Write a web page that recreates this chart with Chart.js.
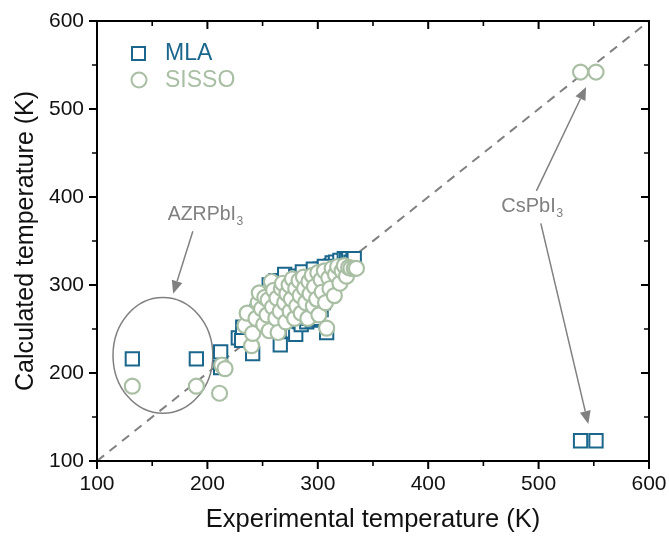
<!DOCTYPE html>
<html>
<head>
<meta charset="utf-8">
<script src="https://cdn.jsdelivr.net/npm/chart.js@4.4.1/dist/chart.umd.min.js"></script>
<style>
html,body{margin:0;padding:0;background:#fff;}
#wrap{width:669px;height:536px;}
</style>
</head>
<body>
<div id="wrap"><canvas id="c" width="669" height="536"></canvas></div>
<script>
// ---- data ----
const seriesNames = ['MLA', 'SISSO'];
const xTickValues = [100, 200, 300, 400, 500, 600];
const yTickValues = [100, 200, 300, 400, 500, 600];

const mlaExp = [132,190,212,212,538,552,
  228,231,232,238,241,245,248,250,253,256,258,260,262,264,266,268,270,272,274,276,277,278,280,280,282,284,285,286,288,290,290,292,294,295,296,298,298,300,300,302,303,304,305,306,308,310,312,313,314,316,318,320,322,324,326,328,330,332,333,286,296,306];
const mlaCalc = [216,216,224,206,123,123,
  240,237,252,262,222,270,282,258,290,300,268,278,305,288,232,296,312,250,280,302,248,292,310,244,270,258,255,300,314,284,258,262,304,260,316,276,268,296,262,318,272,290,280,320,246,306,322,325,300,326,312,328,316,330,328,330,326,330,330,315,318,321];

const sissoExp = [132,190,211,213,216,538,552,
  234,236,240,241,244,246,247,249,251,252,254,255,256,258,259,260,262,263,264,266,267,268,270,271,272,274,275,276,277,279,280,281,283,284,285,287,288,289,291,292,293,295,296,297,299,300,301,303,304,306,307,308,310,311,313,315,316,318,320,322,324,326,328,330,333,335];
const sissoCalc = [185,185,177,209,205,542,542,
  254,268,231,245,262,280,291,273,255,286,266,283,248,304,275,294,262,285,246,270,296,302,280,258,290,300,270,284,307,262,296,276,305,288,268,309,296,280,262,304,290,311,276,298,284,314,266,306,292,316,280,251,308,296,319,288,312,321,302,316,322,310,320,319,319,319];

const toPts = (xs, ys) => xs.map((x, i) => ({x: x, y: ys[i]}));
const diagonal = [{x:100,y:100},{x:600,y:600}];

// ---- styles ----
const MLA_COLOR = '#1a668c';
const SISSO_COLOR = '#a9bfa4';
const GREY = '#808080';
const FONT = "'Liberation Sans', Arial, sans-serif";

// annotation anchors in data units
const ann = {
  ellipse: {cx:159.7, cy:220, rx:45.2, ry:65.8},
  azrText: {x:198, y:380},
  azrArrow: {x1:186.8, y1:361, x2:169, y2:290},
  csText: {x:494, y:389},
  csArrow1: {x1:498, y1:407, x2:543, y2:525},
  csArrow2: {x1:502, y1:370, x2:545, y2:142}
};

function arrow(ctx, x1, y1, x2, y2) {
  const ang = Math.atan2(y2 - y1, x2 - x1);
  const hl = 13, hw = 5.5;
  const bx = x2 - hl * Math.cos(ang), by = y2 - hl * Math.sin(ang);
  ctx.beginPath();
  ctx.moveTo(x1, y1); ctx.lineTo(bx, by); ctx.stroke();
  ctx.beginPath();
  ctx.moveTo(x2, y2);
  ctx.lineTo(bx + hw * Math.sin(ang), by - hw * Math.cos(ang));
  ctx.lineTo(bx - hw * Math.sin(ang), by + hw * Math.cos(ang));
  ctx.closePath(); ctx.fill();
}

function subText(ctx, main, sub, cx, cy, size) {
  ctx.font = size + 'px ' + FONT;
  const w1 = ctx.measureText(main).width;
  ctx.font = (size * 0.62) + 'px ' + FONT;
  const w2 = ctx.measureText(sub).width;
  let x = cx - (w1 + w2) / 2;
  ctx.textBaseline = 'middle'; ctx.textAlign = 'left';
  ctx.font = size + 'px ' + FONT;
  ctx.fillText(main, x, cy);
  ctx.font = (size * 0.62) + 'px ' + FONT;
  ctx.fillText(sub, x + w1 + 0.5, cy + size * 0.35);
}

const annotPlugin = {
  id: 'annot',
  beforeDatasetsDraw(chart) {
    const ctx = chart.ctx, xs = chart.scales.x, ys = chart.scales.y;
    const px = v => xs.getPixelForValue(v), py = v => ys.getPixelForValue(v);
    ctx.save();
    ctx.strokeStyle = GREY; ctx.fillStyle = GREY; ctx.lineWidth = 1.5;
    const e = ann.ellipse;
    ctx.beginPath();
    ctx.ellipse(px(e.cx), py(e.cy), px(e.cx + e.rx) - px(e.cx), py(e.cy) - py(e.cy + e.ry), 0, 0, Math.PI * 2);
    ctx.stroke();
    ctx.lineWidth = 1.5;
    let a = ann.azrArrow; arrow(ctx, px(a.x1), py(a.y1), px(a.x2), py(a.y2));
    a = ann.csArrow1; arrow(ctx, px(a.x1), py(a.y1), px(a.x2), py(a.y2));
    a = ann.csArrow2; arrow(ctx, px(a.x1), py(a.y1), px(a.x2), py(a.y2));
    subText(ctx, 'AZRPbI', '3', px(ann.azrText.x), py(ann.azrText.y), 19.5);
    subText(ctx, 'CsPbI', '3', px(ann.csText.x), py(ann.csText.y), 20);
    ctx.restore();
  }
};

const framePlugin = {
  id: 'frame',
  afterDraw(chart) {
    const ctx = chart.ctx, a = chart.chartArea, xs = chart.scales.x, ys = chart.scales.y;
    ctx.save();
    ctx.strokeStyle = '#000';
    ctx.lineWidth = 2;
    ctx.lineCap = 'square';
    ctx.strokeRect(a.left, a.top, a.right - a.left, a.bottom - a.top);
    ctx.lineCap = 'butt';
    for (let v = 100; v <= 600; v += 50) {
      const major = v % 100 === 0;
      const L = major ? 8 : 5;
      ctx.lineWidth = major ? 2 : 1.6;
      const x = xs.getPixelForValue(v), y = ys.getPixelForValue(v);
      ctx.beginPath();
      ctx.moveTo(x, a.bottom); ctx.lineTo(x, a.bottom + L);
      ctx.moveTo(x, a.top); ctx.lineTo(x, a.top + L);
      ctx.moveTo(a.left, y); ctx.lineTo(a.left - L, y);
      ctx.moveTo(a.right, y); ctx.lineTo(a.right - L, y);
      ctx.stroke();
    }
    // legend
    ctx.lineWidth = 2;
    ctx.strokeStyle = MLA_COLOR; ctx.fillStyle = '#fff';
    ctx.beginPath(); ctx.rect(132, 47, 13, 13); ctx.fill(); ctx.stroke();
    ctx.strokeStyle = SISSO_COLOR;
    ctx.beginPath(); ctx.arc(139, 80, 7.5, 0, Math.PI * 2); ctx.fill(); ctx.stroke();
    ctx.font = '23px ' + FONT; ctx.textBaseline = 'middle'; ctx.textAlign = 'left';
    ctx.fillStyle = MLA_COLOR; ctx.fillText(seriesNames[0], 165, 54);
    ctx.fillStyle = SISSO_COLOR; ctx.fillText(seriesNames[1], 165, 81);
    ctx.restore();
  }
};

new Chart(document.getElementById('c'), {
  type: 'scatter',
  data: {
    datasets: [
      {
        label: seriesNames[0], data: toPts(mlaExp, mlaCalc), order: 2,
        pointStyle: 'rect', pointRadius: 9.4, pointHoverRadius: 9.4,
        borderColor: MLA_COLOR, backgroundColor: '#fff', borderWidth: 2
      },
      {
        label: seriesNames[1], data: toPts(sissoExp, sissoCalc), order: 1,
        pointStyle: 'circle', pointRadius: 7.5, pointHoverRadius: 7.5,
        borderColor: SISSO_COLOR, backgroundColor: '#fff', borderWidth: 2.2
      },
      {
        type: 'line', label: 'y=x', data: diagonal, order: 3,
        borderColor: GREY, borderWidth: 2, borderDash: [9, 7], pointRadius: 0, fill: false
      }
    ]
  },
  options: {
    responsive: false, animation: false, devicePixelRatio: 1,
    layout: {padding: {left: 0, top: 21, right: 20, bottom: 0}},
    plugins: {legend: {display: false}, tooltip: {enabled: false}},
    scales: {
      x: {
        type: 'linear', position: 'bottom', min: 100, max: 600,
        afterBuildTicks: s => { s.ticks = xTickValues.map(v => ({value: v})); },
        afterFit: s => { s.height = 75; s.paddingLeft = 0; s.paddingRight = 0; },
        grid: {display: false, drawTicks: false},
        border: {display: false},
        ticks: {color: '#111', font: {size: 21, family: FONT}, padding: 11, maxRotation: 0},
        title: {display: true, text: 'Experimental temperature (K)', color: '#111',
                font: {size: 25.5, family: FONT}, padding: {top: 0, bottom: 1}}
      },
      y: {
        type: 'linear', position: 'left', min: 100, max: 600,
        afterBuildTicks: s => { s.ticks = yTickValues.map(v => ({value: v})); },
        afterFit: s => { s.width = 97; s.paddingTop = 0; s.paddingBottom = 0; },
        grid: {display: false, drawTicks: false},
        border: {display: false},
        ticks: {color: '#111', font: {size: 21, family: FONT}, padding: 13},
        title: {display: true, text: 'Calculated temperature (K)', color: '#111',
                font: {size: 25, family: FONT}, padding: {top: 11, bottom: 0}}
      }
    }
  },
  plugins: [annotPlugin, framePlugin]
});
</script>
</body>
</html>
